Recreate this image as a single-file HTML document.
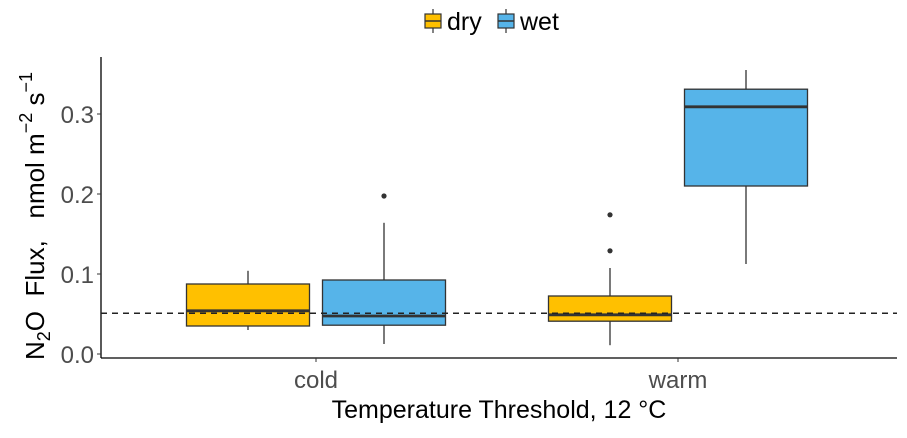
<!DOCTYPE html>
<html><head><meta charset="utf-8"><style>
body{margin:0;background:#fff}
text{font-family:"Liberation Sans",sans-serif}
</style></head><body>
<svg id="c" width="907" height="433" xmlns="http://www.w3.org/2000/svg"></svg>
<script>
const categories=["cold","warm"];
const groups=["dry","wet"];
const colors=["#FFC000","#56B4E9"];
// [lowerWhisker,Q1,median,Q3,upperWhisker]
const dryStats=[[0.030,0.035,0.054,0.0875,0.104],[0.011,0.041,0.049,0.0725,0.1075]];
const wetStats=[[0.0125,0.036,0.0475,0.0925,0.164],[0.1125,0.21,0.309,0.331,0.355]];
const dryOutliers=[[],[0.174,0.129]];
const wetOutliers=[[0.1975],[]];
const yTicks=[0.0,0.1,0.2,0.3];
const refLine=0.051;
const NS="http://www.w3.org/2000/svg";
const svg=document.getElementById('c');
function el(t,a,p){const e=document.createElementNS(NS,t);for(const k in a)e.setAttribute(k,a[k]);(p||svg).appendChild(e);return e;}
const y=v=>354-800*v;
const xc=i=>316+i*362;
const bw=123, off=68;
const L=101,R=897,T=57,B=358;
const ax=el('line',{x1:L,y1:T,x2:L,y2:B,stroke:'#000','stroke-width':1.3});

const bx=el('line',{x1:L,y1:B,x2:R,y2:B,stroke:'#000','stroke-width':1.3});

yTicks.forEach(v=>{
  el('line',{x1:L-4,y1:y(v),x2:L,y2:y(v),stroke:'#333'});
  const t=el('text',{x:L-7,y:y(v)+9,'text-anchor':'end','font-size':24,fill:'#4d4d4d'});
  t.textContent=v.toFixed(1);
  
});
categories.forEach((c,i)=>{
  el('line',{x1:xc(i),y1:B,x2:xc(i),y2:B+4,stroke:'#333'});
  const t=el('text',{x:xc(i),y:388,'text-anchor':'middle','font-size':24,fill:'#4d4d4d'});
  t.textContent=c;
  
});
function box(s,cx,col,outs,name){
  const g=el('g',{});
  
  el('line',{x1:cx,y1:y(s[0]),x2:cx,y2:y(s[4]),stroke:'#333','stroke-width':1.3},g);
  el('rect',{x:cx-bw/2,y:y(s[3]),width:bw,height:y(s[1])-y(s[3]),fill:col,stroke:'#333','stroke-width':1.3},g);
  el('line',{x1:cx-bw/2,y1:y(s[2]),x2:cx+bw/2,y2:y(s[2]),stroke:'#333','stroke-width':2.8},g);
  outs.forEach(o=>el('circle',{cx:cx,cy:y(o),r:2.6,fill:'#333'},g));
}
categories.forEach((c,i)=>{
  box(dryStats[i],xc(i)-off,colors[0],dryOutliers[i],'box-dry-'+c);
  box(wetStats[i],xc(i)+off,colors[1],wetOutliers[i],'box-wet-'+c);
});
const rl=el('line',{x1:L,y1:y(refLine),x2:R,y2:y(refLine),stroke:'#222','stroke-width':1.5,'stroke-dasharray':'6,5'});

const xt=el('text',{x:499,y:418,'text-anchor':'middle','font-size':25,fill:'#000'});
xt.textContent='Temperature Threshold, 12 °C';

const yt=el('text',{transform:'translate(44,360) rotate(-90)','font-size':26,fill:'#000'});
yt.innerHTML='N<tspan dy="6" font-size="18">2</tspan><tspan dy="-6">O\u00a0\u00a0Flux,\u00a0\u00a0\u00a0nmol m</tspan><tspan dy="-12" font-size="18">−2</tspan><tspan dy="12">\u00a0s</tspan><tspan dy="-12" font-size="18">−1</tspan>';

groups.forEach((g,i)=>{
  const lx=[425,498][i];
  const lg=el('g',{});
  
  el('line',{x1:lx+8,y1:9,x2:lx+8,y2:33,stroke:'#333','stroke-width':1.2},lg);
  el('rect',{x:lx,y:14,width:16,height:14,fill:colors[i],stroke:'#333','stroke-width':1.2},lg);
  el('line',{x1:lx,y1:21,x2:lx+16,y2:21,stroke:'#333','stroke-width':1.5},lg);
  const t=el('text',{x:lx+22,y:30,'font-size':25,fill:'#000'},lg);
  t.textContent=g;
});
</script>
</body></html>
